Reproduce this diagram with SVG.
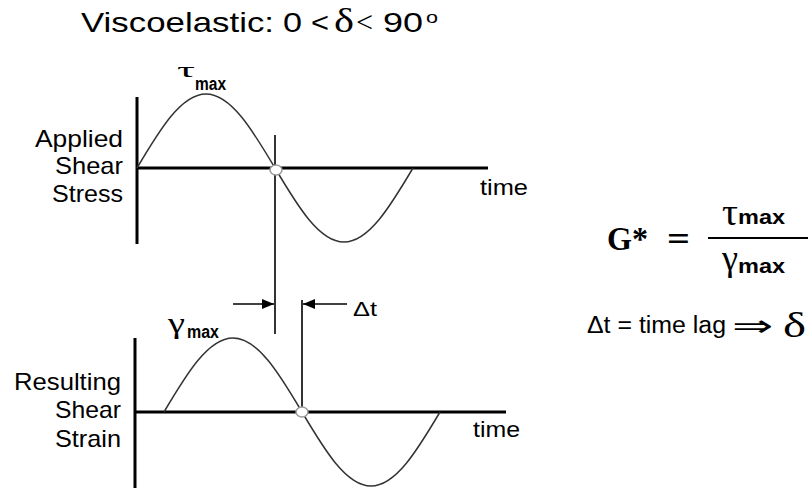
<svg xmlns="http://www.w3.org/2000/svg" width="808" height="488" viewBox="0 0 808 488">
<defs>
<style>
.t{font-family:"Liberation Sans",Arial,sans-serif;fill:#000}
.s{font-family:"Liberation Serif","Times New Roman",serif;fill:#000}
.lbl{font-size:24px}
.sub{font-size:18px;font-weight:bold}
.axis{stroke:#000;stroke-width:3;fill:none}
.wave{stroke:#333;stroke-width:1.5;fill:none}
.mark{stroke:#000;stroke-width:1.6;fill:none}
.dot{fill:#fff;stroke:#999;stroke-width:1.5}
</style>
<marker id="ah" markerWidth="12" markerHeight="10" refX="12" refY="5" orient="auto" markerUnits="userSpaceOnUse">
<path d="M0,0 L12,5 L0,10 z" fill="#000"/>
</marker>
</defs>
<g id="title">
<text class="t" x="81" y="32" font-size="28" textLength="193" lengthAdjust="spacingAndGlyphs">Viscoelastic:</text>
<text class="t" x="283" y="32" font-size="28" textLength="19" lengthAdjust="spacingAndGlyphs">0</text>
<text class="t" x="311" y="32" font-size="28" textLength="18" lengthAdjust="spacingAndGlyphs">&lt;</text>
<text class="s" x="334" y="32" font-size="34" textLength="20" lengthAdjust="spacingAndGlyphs">δ</text>
<text class="s" x="356" y="32" font-size="30" textLength="17" lengthAdjust="spacingAndGlyphs">&lt;</text>
<text class="t" x="383" y="32" font-size="28" textLength="40" lengthAdjust="spacingAndGlyphs">90</text>
<text class="t" x="426" y="23" font-size="17" textLength="12" lengthAdjust="spacingAndGlyphs">o</text>
</g>
<g id="stress-plot">
<path class="axis" d="M137,97 V244 M137,168 H488"/>
<path class="wave" d="M137,168 C159.5,130.1 181.15,94 206,94 C230.85,94 252.5,130.1 275,168 C297.5,205.9 319.15,242 344,242 C368.85,242 390.5,205.9 413,168"/>
<text class="t lbl" x="35" y="147" textLength="88" lengthAdjust="spacingAndGlyphs">Applied</text>
<text class="t lbl" x="55" y="174" textLength="68" lengthAdjust="spacingAndGlyphs">Shear</text>
<text class="t lbl" x="52" y="202" textLength="71" lengthAdjust="spacingAndGlyphs">Stress</text>
<text class="t" x="480" y="195" font-size="22" textLength="48" lengthAdjust="spacingAndGlyphs">time</text>
<text class="s" x="177" y="77" font-size="22" textLength="18" lengthAdjust="spacingAndGlyphs">τ</text>
<text class="t sub" x="195" y="90" textLength="31" lengthAdjust="spacingAndGlyphs">max</text>
</g>
<g id="strain-plot">
<path class="axis" d="M135,338 V488 M135,412 H506"/>
<path class="wave" d="M164,412 C186.5,374.1 208.15,338 233,338 C257.85,338 279.5,374.1 302,412 C324.5,449.9 346.15,486 371,486 C395.85,486 417.5,449.9 440,412"/>
<text class="t lbl" x="14" y="390" textLength="107" lengthAdjust="spacingAndGlyphs">Resulting</text>
<text class="t lbl" x="55" y="418" textLength="66" lengthAdjust="spacingAndGlyphs">Shear</text>
<text class="t lbl" x="55" y="447" textLength="66" lengthAdjust="spacingAndGlyphs">Strain</text>
<text class="t" x="473" y="437" font-size="22" textLength="47" lengthAdjust="spacingAndGlyphs">time</text>
<text class="s" x="168" y="333" font-size="30" textLength="17" lengthAdjust="spacingAndGlyphs">γ</text>
<text class="t sub" x="187" y="338" textLength="32" lengthAdjust="spacingAndGlyphs">max</text>
</g>
<g id="connectors">
<path class="mark" d="M275,135 V334"/>
<path class="mark" d="M302,300 V412"/>
<path class="mark" d="M233,304 H274" marker-end="url(#ah)"/>
<path class="mark" d="M347,304 H303" marker-end="url(#ah)"/>
</g>
<g id="markers">
<ellipse class="dot" cx="276" cy="170" rx="6" ry="5"/>
<ellipse class="dot" cx="302" cy="412" rx="6" ry="5"/>
</g>
<g id="dt-label"><text class="t" x="353" y="316" font-size="20" textLength="24" lengthAdjust="spacingAndGlyphs">Δt</text></g>
<g id="formula">
<text class="s" x="607" y="250" font-size="33" font-weight="bold" textLength="41" lengthAdjust="spacingAndGlyphs">G*</text>
<text class="s" x="667" y="250" font-size="33" font-weight="bold" textLength="23" lengthAdjust="spacingAndGlyphs">=</text>
<path d="M708,238 H808" stroke="#000" stroke-width="2"/>
<text class="s" x="722" y="225" font-size="38" textLength="16" lengthAdjust="spacingAndGlyphs">τ</text>
<text class="t" x="738" y="224" font-size="21" font-weight="bold" textLength="47" lengthAdjust="spacingAndGlyphs">max</text>
<text class="s" x="722" y="270" font-size="36" textLength="16" lengthAdjust="spacingAndGlyphs">γ</text>
<text class="t" x="738" y="273" font-size="21" font-weight="bold" textLength="47" lengthAdjust="spacingAndGlyphs">max</text>
</g>
<g id="lag">
<text class="t" x="587" y="333" font-size="23" textLength="139" lengthAdjust="spacingAndGlyphs">Δt = time lag</text>
<text class="s" x="732" y="336" font-size="30" textLength="41" lengthAdjust="spacingAndGlyphs">⇒</text>
<text class="s" x="783" y="337" font-size="36" textLength="23" lengthAdjust="spacingAndGlyphs">δ</text>
</g>
</svg>
